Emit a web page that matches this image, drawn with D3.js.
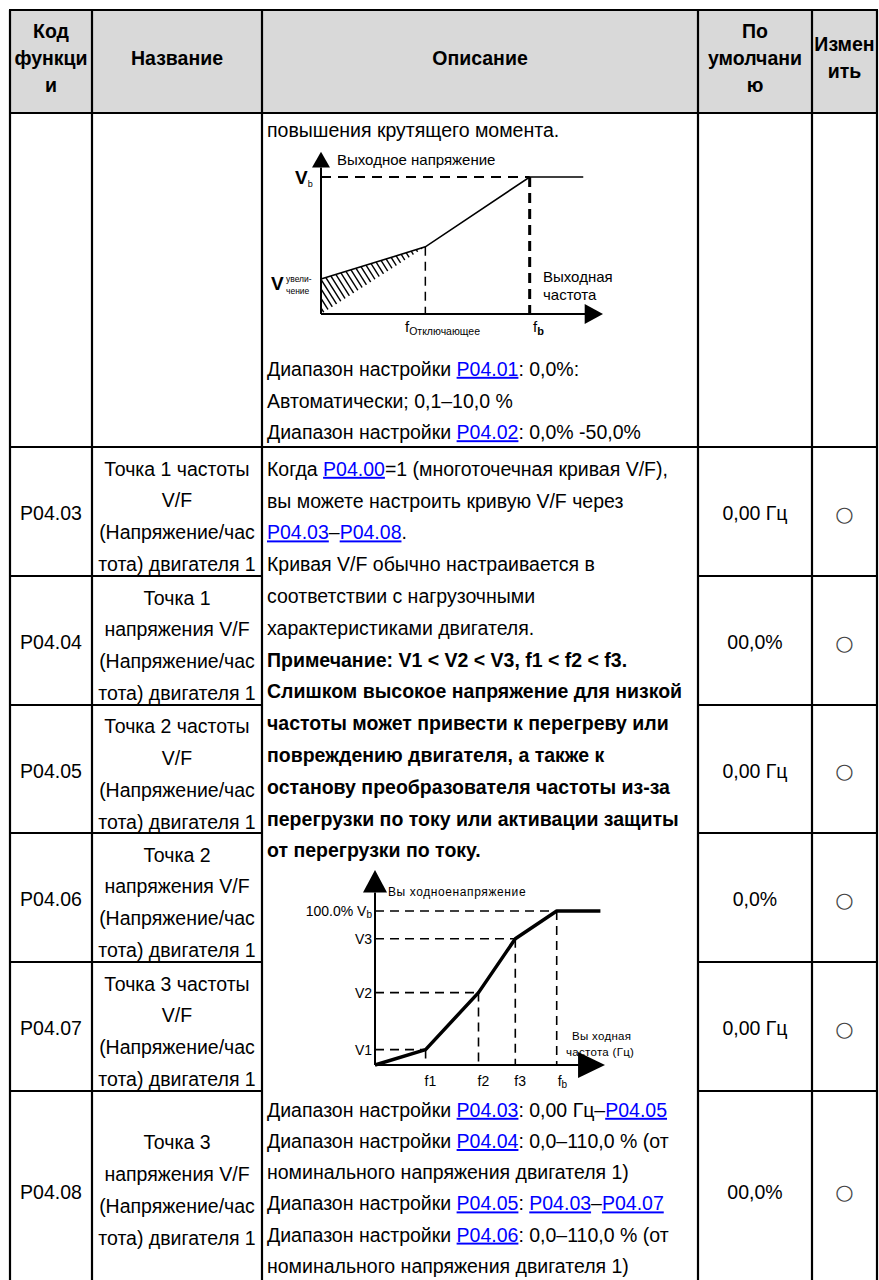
<!DOCTYPE html>
<html><head><meta charset="utf-8">
<script src="https://cdn.jsdelivr.net/npm/d3@7"></script>
<style>
body{margin:0;background:#fff}
svg{display:block}
text{font-family:"Liberation Sans",Arial,sans-serif;white-space:pre}
</style>
</head><body><div id="c"></div>
<script>
// ---------- table data ----------
const headerLabels = [["Код","функци","и"],["Название"],["Описание"],["По","умолчани","ю"],["Измен","ить"]];
const codes = ["", "P04.03","P04.04","P04.05","P04.06","P04.07","P04.08"];
const names = [
  [],
  ["Точка 1 частоты","V/F","(Напряжение/час","тота) двигателя 1"],
  ["Точка 1","напряжения V/F","(Напряжение/час","тота) двигателя 1"],
  ["Точка 2 частоты","V/F","(Напряжение/час","тота) двигателя 1"],
  ["Точка 2","напряжения V/F","(Напряжение/час","тота) двигателя 1"],
  ["Точка 3 частоты","V/F","(Напряжение/час","тота) двигателя 1"],
  ["Точка 3","напряжения V/F","(Напряжение/час","тота) двигателя 1"]
];
const defaults = ["", "0,00 Гц","00,0%","0,00 Гц","0,0%","0,00 Гц","00,0%"];
const modifiable = ["", "○","○","○","○","○","○"];
const descTop = ["повышения крутящего момента."];
const descTopAfter = [
  "Диапазон настройки [P04.01]: 0,0%:",
  "Автоматически; 0,1–10,0 %",
  "Диапазон настройки [P04.02]: 0,0% -50,0%"
];
const descMain = [
  "Когда [P04.00]=1 (многоточечная кривая V/F),",
  "вы можете настроить кривую V/F через",
  "[P04.03]–[P04.08].",
  "Кривая V/F обычно настраивается в",
  "соответствии с нагрузочными",
  "характеристиками двигателя.",
  "**Примечание: V1 < V2 < V3, f1 < f2 < f3.",
  "**Слишком высокое напряжение для низкой",
  "**частоты может привести к перегреву или",
  "**повреждению двигателя, а также к",
  "**останову преобразователя частоты из-за",
  "**перегрузки по току или активации защиты",
  "**от перегрузки по току."
];
const descRanges = [
  "Диапазон настройки [P04.03]: 0,00 Гц–[P04.05]",
  "Диапазон настройки [P04.04]: 0,0–110,0 % (от",
  "номинального напряжения двигателя 1)",
  "Диапазон настройки [P04.05]: [P04.03]–[P04.07]",
  "Диапазон настройки [P04.06]: 0,0–110,0 % (от",
  "номинального напряжения двигателя 1)"
];
// ---------- diagram 1 data (torque boost) ----------
const d1Freq = [0, 37, 74, 93];        // origin, f cut-off, f_b, end
const d1Volt = [25.5, 49, 100, 100];   // V boost, at cut-off, V_b, V_b
// ---------- diagram 2 data (multi-point V/F) ----------
const d2Freq = [0, 22, 45, 61, 79, 98];
const d2Volt = [0, 10, 47, 82, 100, 100];
const d2VLabels = ["V1","V2","V3"];
const d2FLabels = ["f1","f2","f3"];

// ---------- layout ----------
const W=879,H=1280, FS=19.5, LS=31.8;
const colX=[10,92,262,698,812,877];
const rowY=[10,113,447,576,705,833,962,1091,1293];
const svg=d3.select("#c").append("svg").attr("width",W).attr("height",H);
svg.append("rect").attr("width",W).attr("height",H).attr("fill","#fff");
svg.append("rect").attr("x",colX[0]).attr("y",rowY[0]).attr("width",colX[5]-colX[0])
  .attr("height",rowY[1]-rowY[0]).attr("fill","#d9d9d9");

const cx=i=>(colX[i]+colX[i+1])/2;
// header
headerLabels.forEach((lines,i)=>{
  lines.forEach((l,k)=>{
    svg.append("text").attr("x",cx(i)).attr("y",58+(k-(lines.length-1)/2)*27).attr("dy","0.35em")
      .attr("text-anchor","middle").attr("font-weight","bold").attr("font-size",FS).text(l);
  });
});
// rich text
function rich(str,x,y){
  let bold=false; if(str.startsWith("**")){bold=true;str=str.slice(2);}
  const t=svg.append("text").attr("x",x).attr("y",y).attr("dy","0.35em").attr("font-size",FS)
    .attr("font-weight",bold?"bold":"normal").attr("fill","#000");
  str.split(/(\[[^\]]+\])/).filter(s=>s.length).forEach(p=>{
    if(p[0]==="[") t.append("tspan").attr("fill","#0000ff").style("text-decoration","underline").text(p.slice(1,-1));
    else t.append("tspan").text(p);
  });
}
const dx0=267;
descTop.forEach((s,i)=>rich(s,dx0,130+i*LS));
descTopAfter.forEach((s,i)=>rich(s,dx0,369+i*31.7));
descMain.forEach((s,i)=>rich(s,dx0,469+i*LS));
descRanges.forEach((s,i)=>rich(s,dx0,1110+i*31.2));

// body rows
codes.forEach((c,r)=>{
  if(r===0) return;
  const top=rowY[r+1], bot=rowY[r+2];
  const mid = r<6 ? (top+bot)/2+2 : 1192;
  const off = r<6 ? 5 : 0;
  svg.append("text").attr("x",cx(0)).attr("y",mid).attr("dy","0.35em").attr("text-anchor","middle").attr("font-size",FS).text(c);
  names[r].forEach((l,k)=>{
    svg.append("text").attr("x",cx(1)).attr("y",mid+(k-1.5)*LS+off-2).attr("dy","0.35em").attr("text-anchor","middle").attr("font-size",FS).text(l);
  });
  svg.append("text").attr("x",cx(3)).attr("y",mid).attr("dy","0.35em").attr("text-anchor","middle").attr("font-size",FS).text(defaults[r]);
  svg.append("text").attr("x",cx(4)).attr("y",mid).attr("dy","0.35em").attr("text-anchor","middle")
    .attr("font-size",21).style("font-family","'DejaVu Sans'").attr("fill","#444").text(modifiable[r]);
});

// ---------- diagram 1 ----------
const x1=d3.scaleLinear().domain([0,100]).range([321,603]);
const y1=d3.scaleLinear().domain([0,100]).range([314,177]);
const g1=svg.append("g");
const tri=[[x1(0),y1(0)],[x1(0),y1(d1Volt[0])],[x1(d1Freq[1]),y1(d1Volt[1])]];
svg.append("clipPath").attr("id","hatch").append("path").attr("d","M"+tri.join("L")+"Z");
const hg=g1.append("g").attr("clip-path","url(#hatch)");
d3.range(-120,140,6).forEach(o=>{
  hg.append("line").attr("x1",x1(0)+o).attr("y1",y1(60)).attr("x2",x1(0)+o+55).attr("y2",y1(0)+5)
    .attr("stroke","#000").attr("stroke-width",1.4);
});
// dashed guides
g1.append("line").attr("x1",x1(0)).attr("x2",x1(d1Freq[2])).attr("y1",y1(100)).attr("y2",y1(100))
  .attr("stroke","#000").attr("stroke-width",2).attr("stroke-dasharray","10,7");
g1.append("line").attr("x1",x1(d1Freq[1])).attr("x2",x1(d1Freq[1])).attr("y1",y1(d1Volt[1])).attr("y2",y1(0))
  .attr("stroke","#000").attr("stroke-width",1.5).attr("stroke-dasharray","9,6");
g1.append("line").attr("x1",x1(d1Freq[2])).attr("x2",x1(d1Freq[2])).attr("y1",y1(100)).attr("y2",y1(0))
  .attr("stroke","#000").attr("stroke-width",3).attr("stroke-dasharray","10,6");
// curve
g1.append("path").attr("d",d3.line().x(d=>x1(d[0])).y(d=>y1(d[1]))([[0,d1Volt[0]],...d1Freq.slice(1).map((f,i)=>[f,d1Volt[i+1]])]))
  .attr("fill","none").attr("stroke","#000").attr("stroke-width",1.6);
// axes
g1.append("line").attr("x1",x1(0)).attr("x2",x1(0)).attr("y1",y1(0)).attr("y2",y1(107)).attr("stroke","#000").attr("stroke-width",2);
g1.append("line").attr("x1",x1(0)).attr("x2",x1(94)).attr("y1",y1(0)).attr("y2",y1(0)).attr("stroke","#000").attr("stroke-width",2);
g1.append("path").attr("d",`M${x1(0)},${y1(118.5)}L${x1(0)-9},${y1(107)}L${x1(0)+9},${y1(107)}Z`);
g1.append("path").attr("d",`M${x1(100)},${y1(0)}L${x1(93.5)},${y1(0)-10}L${x1(93.5)},${y1(0)+10}Z`);
// labels
g1.append("text").attr("x",337).attr("y",160).attr("dy","0.35em").attr("font-size",15).text("Выходное напряжение");
const vb=g1.append("text").attr("x",295).attr("y",y1(100)).attr("dy","0.35em").attr("font-size",19).attr("font-weight","bold").text("V");
vb.append("tspan").attr("font-size",9).attr("font-weight","normal").attr("dy",3).text("b");
g1.append("text").attr("x",271).attr("y",y1(d1Volt[0])+4).attr("dy","0.35em").attr("font-size",19).attr("font-weight","bold").text("V");
g1.append("text").attr("x",286).attr("y",279).attr("dy","0.35em").attr("font-size",8.5).text("увели-");
g1.append("text").attr("x",286).attr("y",291).attr("dy","0.35em").attr("font-size",8.5).text("чение");
g1.append("text").attr("x",543).attr("y",277).attr("dy","0.35em").attr("font-size",15).text("Выходная");
g1.append("text").attr("x",543).attr("y",295).attr("dy","0.35em").attr("font-size",15).text("частота");
const fc=g1.append("text").attr("x",405).attr("y",y1(0)+13).attr("dy","0.35em").attr("font-size",15).text("f");
fc.append("tspan").attr("font-size",10.5).attr("dy",3).text("Отключающее");
const fbt=g1.append("text").attr("x",533).attr("y",y1(0)+13).attr("dy","0.35em").attr("font-size",15).text("f");
fbt.append("tspan").attr("font-size",11).attr("font-weight","bold").attr("dy",3).text("b");

// ---------- diagram 2 ----------
const x2=d3.scaleLinear().domain([0,100]).range([375,605]);
const y2=d3.scaleLinear().domain([0,100]).range([1065,911]);
const g2=svg.append("g");
// guides
[1,2,3,4].forEach(i=>{
  g2.append("line").attr("x1",x2(0)).attr("x2",x2(d2Freq[i])).attr("y1",y2(d2Volt[i])).attr("y2",y2(d2Volt[i]))
    .attr("stroke","#000").attr("stroke-width",1.6).attr("stroke-dasharray","9,6");
  g2.append("line").attr("x1",x2(d2Freq[i])).attr("x2",x2(d2Freq[i])).attr("y1",y2(d2Volt[i])).attr("y2",y2(0))
    .attr("stroke","#000").attr("stroke-width",1.6).attr("stroke-dasharray","9,6");
});
// labels
g2.append("text").attr("x",388).attr("y",892).attr("dy","0.35em").attr("font-size",12).attr("letter-spacing",0.6).text("Вы ходноенапряжение");
const vb2=g2.append("text").attr("x",372).attr("y",y2(100)).attr("dy","0.35em").attr("text-anchor","end").attr("font-size",14).text("100.0% V");
vb2.append("tspan").attr("font-size",10).attr("dy",2).text("b");
d2VLabels.forEach((l,i)=>{
  g2.append("text").attr("x",372).attr("y",y2(d2Volt[i+1])).attr("dy","0.35em").attr("text-anchor","end").attr("font-size",14).text(l);
});
d2FLabels.forEach((l,i)=>{
  g2.append("text").attr("x",x2(d2Freq[i+1])-1).attr("y",1081).attr("dy","0.35em").attr("font-size",14).text(l);
});
const fb2=g2.append("text").attr("x",x2(d2Freq[4])+1).attr("y",1081).attr("dy","0.35em").attr("font-size",14).text("f");
fb2.append("tspan").attr("font-size",10).attr("dy",2).text("b");
g2.append("text").attr("x",572).attr("y",1036).attr("dy","0.35em").attr("font-size",11.5).attr("letter-spacing",0.3).text("Вы ходная");
g2.append("text").attr("x",566).attr("y",1052).attr("dy","0.35em").attr("font-size",11.5).attr("letter-spacing",0.3).text("частота (Гц)");
// curve
g2.append("path").attr("d",d3.line().x((d,i)=>x2(d)).y((d,i)=>y2(d2Volt[i]))(d2Freq))
  .attr("fill","none").attr("stroke","#000").attr("stroke-width",3.5).attr("stroke-linejoin","round");
// axes
g2.append("line").attr("x1",x2(0)).attr("x2",x2(0)).attr("y1",y2(0)).attr("y2",y2(112)).attr("stroke","#000").attr("stroke-width",2);
g2.append("line").attr("x1",x2(0)).attr("x2",x2(89)).attr("y1",y2(0)).attr("y2",y2(0)).attr("stroke","#000").attr("stroke-width",2);
g2.append("path").attr("d",`M${x2(0)},${y2(126.6)}L${x2(0)-12},${y2(112)}L${x2(0)+12},${y2(112)}Z`);
g2.append("path").attr("d",`M${x2(100)},${y2(0)}L${x2(88.3)},${y2(0)-13}L${x2(88.3)},${y2(0)+13}Z`);

// ---------- borders ----------
const bw=2.2;
colX.forEach(x=>svg.append("line").attr("x1",x).attr("x2",x).attr("y1",rowY[0]).attr("y2",rowY[8]).attr("stroke","#000").attr("stroke-width",bw));
rowY.forEach((y,i)=>{
  if(i<=2||i===8){
    svg.append("line").attr("x1",colX[0]-1).attr("x2",colX[5]+1).attr("y1",y).attr("y2",y).attr("stroke","#000").attr("stroke-width",bw);
  } else {
    svg.append("line").attr("x1",colX[0]-1).attr("x2",colX[2]).attr("y1",y).attr("y2",y).attr("stroke","#000").attr("stroke-width",bw);
    svg.append("line").attr("x1",colX[3]).attr("x2",colX[5]+1).attr("y1",y).attr("y2",y).attr("stroke","#000").attr("stroke-width",bw);
  }
});
</script>
</body></html>
